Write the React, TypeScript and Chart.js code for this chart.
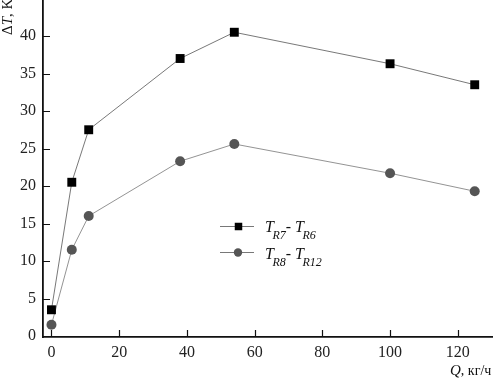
import React, { useEffect, useRef } from "react";
import { Chart, registerables } from "chart.js";
Chart.register(...registerables);

const qValues = [0, 6, 11, 38, 54, 100, 125];
const seriesR7R6 = [3.5, 20.5, 27.5, 37, 40.5, 36.3, 33.5];
const seriesR8R12 = [1.5, 11.5, 16, 23.3, 25.6, 21.7, 19.3];
const xTicks = [0, 20, 40, 60, 80, 100, 120];
const yTicks = [0, 5, 10, 15, 20, 25, 30, 35, 40];

const SERIF = "'Liberation Serif'";

const zeroPad = (s: any) => {
  s.paddingTop = 0;
  s.paddingBottom = 0;
  s.paddingLeft = 0;
  s.paddingRight = 0;
};

const overlay = {
  id: "overlay",
  afterDraw(chart: any) {
    const ctx = chart.ctx as CanvasRenderingContext2D;
    const xs = chart.scales.x;
    const ys = chart.scales.y;
    const area = chart.chartArea;
    ctx.save();
    // inward tick marks
    ctx.strokeStyle = "#111";
    ctx.lineWidth = 1.2;
    ctx.beginPath();
    for (const v of xTicks) {
      const px = Math.round(xs.getPixelForValue(v)) + 0.5;
      ctx.moveTo(px, area.bottom);
      ctx.lineTo(px, area.bottom - 7);
    }
    for (const v of yTicks) {
      if (v === 0) continue;
      const py = Math.round(ys.getPixelForValue(v)) + 0.5;
      ctx.moveTo(area.left, py);
      ctx.lineTo(area.left + 7, py);
    }
    ctx.stroke();

    ctx.fillStyle = "#111";
    ctx.textBaseline = "alphabetic";
    // Y title
    ctx.save();
    ctx.translate(12, 35);
    ctx.rotate(-Math.PI / 2);
    ctx.textAlign = "left";
    let x = 0;
    ctx.font = `15px ${SERIF}`;
    ctx.fillText("Δ", x, 0); x += ctx.measureText("Δ").width;
    ctx.font = `italic 15px ${SERIF}`;
    ctx.fillText("T", x, 0); x += ctx.measureText("T").width;
    ctx.font = `15px ${SERIF}`;
    ctx.fillText(", K", x, 0);
    ctx.restore();

    // X title
    let xx = 450;
    const by = 375;
    ctx.font = `italic 15px ${SERIF}`;
    ctx.fillText("Q", xx, by); xx += ctx.measureText("Q").width;
    ctx.font = `14px ${SERIF}`;
    ctx.fillText(", кг/ч", xx, by);

    // Legend
    const rows = [
      { y: 226.5, base: 232, main: ["R7", "R6"], style: "rect", color: "#000" },
      { y: 252.5, base: 258.5, main: ["R8", "R12"], style: "circle", color: "#555" },
    ];
    for (const r of rows) {
      ctx.strokeStyle = "#555";
      ctx.lineWidth = 0.8;
      ctx.beginPath();
      ctx.moveTo(220, r.y);
      ctx.lineTo(254, r.y);
      ctx.stroke();
      ctx.fillStyle = r.color;
      if (r.style === "rect") {
        ctx.fillRect(238.5 - 3.75, r.y - 3.75, 7.5, 7.5);
      } else {
        ctx.beginPath();
        ctx.arc(238, r.y, 4.2, 0, Math.PI * 2);
        ctx.fill();
      }
      ctx.fillStyle = "#111";
      let lx = 265;
      const sub = r.base + 7;
      ctx.font = `italic 16px ${SERIF}`;
      ctx.fillText("T", lx, r.base); lx += ctx.measureText("T").width - 1.5;
      ctx.font = `italic 12px ${SERIF}`;
      ctx.fillText(r.main[0], lx, sub); lx += ctx.measureText(r.main[0]).width;
      ctx.font = `16px ${SERIF}`;
      ctx.fillText("- ", lx, r.base); lx += ctx.measureText("- ").width;
      ctx.font = `italic 16px ${SERIF}`;
      ctx.fillText("T", lx, r.base); lx += ctx.measureText("T").width - 1.5;
      ctx.font = `italic 12px ${SERIF}`;
      ctx.fillText(r.main[1], lx, sub);
    }
    ctx.restore();
  },
};

export default function App() {
  const ref = useRef<HTMLCanvasElement>(null);
  useEffect(() => {
    const chart = new Chart(ref.current!, {
      type: "scatter",
      data: {
        datasets: [
          {
            data: qValues.map((q, i) => ({ x: q, y: seriesR7R6[i] })),
            showLine: true,
            borderColor: "#555",
            borderWidth: 0.8,
            pointStyle: "rect",
            pointRadius: 6.3,
            pointBackgroundColor: "#000",
            pointBorderWidth: 0,
            clip: false,
          },
          {
            data: qValues.map((q, i) => ({ x: q, y: seriesR8R12[i] })),
            showLine: true,
            borderColor: "#777",
            borderWidth: 0.8,
            pointStyle: "circle",
            pointRadius: 5,
            pointBackgroundColor: "#555",
            pointBorderWidth: 0,
            clip: false,
          },
        ],
      },
      options: {
        animation: false,
        responsive: false,
        maintainAspectRatio: false,
        layout: { padding: 0, autoPadding: false },
        plugins: { legend: { display: false }, tooltip: { enabled: false } },
        scales: {
          x: {
            type: "linear",
            min: -2.5,
            max: 130.4,
            afterBuildTicks: (s: any) => { s.ticks = xTicks.map((v) => ({ value: v })); },
            afterFit: (s: any) => { s.height = 46; zeroPad(s); },
            grid: { display: false, drawTicks: false },
            border: { display: true, color: "#111", width: 1.8 },
            ticks: { color: "#222", font: { family: SERIF, size: 16 }, padding: 6, maxRotation: 0 },
          },
          y: {
            type: "linear",
            min: -0.13,
            max: 44.8,
            afterBuildTicks: (s: any) => { s.ticks = yTicks.map((v) => ({ value: v })); },
            afterFit: (s: any) => { s.width = 43; zeroPad(s); },
            grid: { display: false, drawTicks: false },
            border: { display: true, color: "#111", width: 1.8 },
            ticks: { color: "#222", font: { family: SERIF, size: 16 }, padding: 7 },
          },
        },
      },
      plugins: [overlay],
    });
    return () => chart.destroy();
  }, []);
  return (
    <div style={{ position: "fixed", left: 0, top: 0, width: 493, height: 383, background: "#fff" }}>
      <canvas ref={ref} width={493} height={383} style={{ width: 493, height: 383 }} />
    </div>
  );
}
